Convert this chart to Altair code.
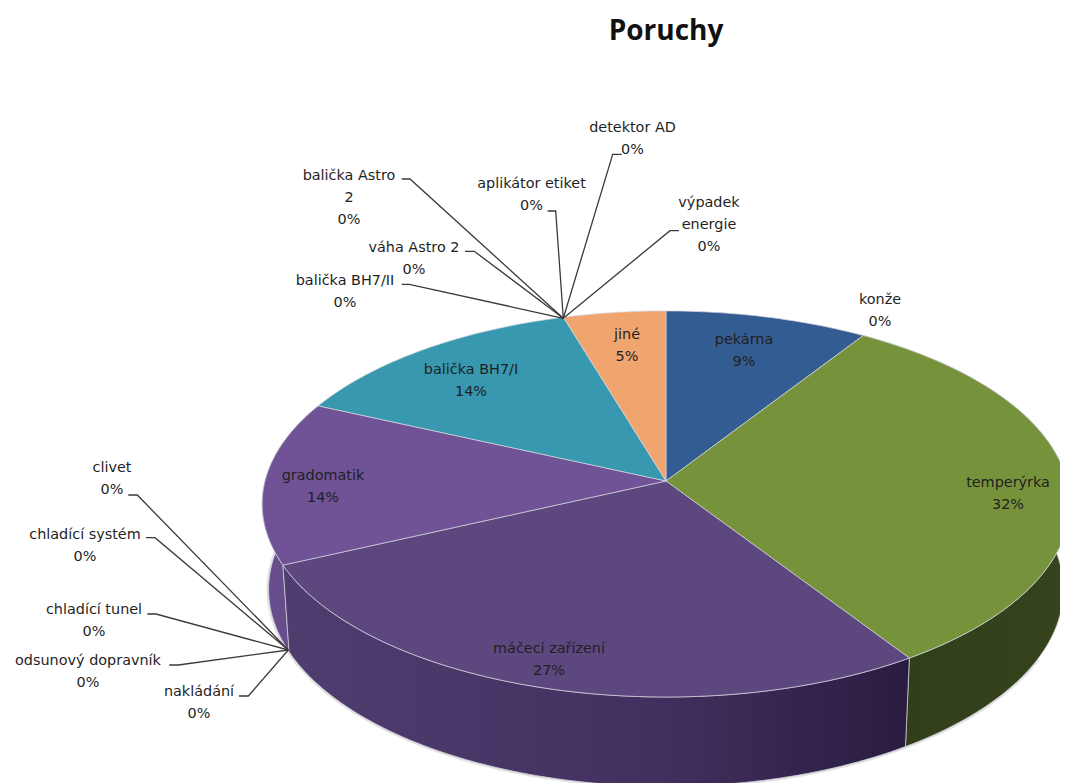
import math
import altair as alt
import pandas as pd

# ---- data ----
slice_names = ["pekárna", "temperýrka", "máčecí zařízení", "gradomatik", "balička BH7/I", "jiné"]
slice_values = [9.1, 31.7, 27.3, 13.7, 13.6, 4.6]
zero_names = ["konže", "nakládání", "odsunový dopravník", "chladící tunel", "chladící systém",
              "clivet", "balička BH7/II", "váha Astro 2", "balička Astro 2", "aplikátor etiket",
              "detektor AD", "výpadek energie"]
top_colors = ["#335d92", "#76933c", "#5d477f", "#6f5396", "#3798af", "#f0a46e"]
seam_color = "#d6d6de"

# ---- layout (pixels of the window) ----
W, H = 1052, 775
FONT = "DejaVu Sans"
cx, cy, B, A, P = 666.0, 481.0, 401.0, 190.3, 0.119


def top_pt(pct):
    t = 2 * math.pi * pct / 100.0
    w = 1 + P * math.cos(t)
    return cx + B * math.sin(t) / w, cy - A * math.cos(t) / w


def low_pt(pct):
    x, y = top_pt(pct)
    return cx + 0.984 * (x - cx), 566.0 + 1.02 * (y - cy)


def arc(a, b, fn):
    n = max(2, int(abs(b - a) * 3))
    return [fn(a + (b - a) * i / n) for i in range(n + 1)]


cum = [0.0]
for v in slice_values:
    cum.append(cum[-1] + v)
cum[-1] = 100.0

top_rows, wall_rows = [], {}
for i, name in enumerate(slice_names):
    pts = [(cx, cy)] + arc(cum[i], cum[i + 1], top_pt) + [(cx, cy)]
    for k, (x, y) in enumerate(pts):
        top_rows.append(dict(name=name, k=k, x=x, y=y))
    wp = arc(cum[i], cum[i + 1], top_pt) + arc(cum[i + 1], cum[i], low_pt)
    wp.append(wp[0])
    wall_rows[name] = [dict(name=name, k=k, x=x, y=y) for k, (x, y) in enumerate(wp)]

X = alt.X("x:Q", axis=None, scale=alt.Scale(domain=[8, 8 + W], range=[0, W], nice=False, zero=False))
Y = alt.Y("y:Q", axis=None, scale=alt.Scale(domain=[8, 8 + H], range=[0, H], nice=False, zero=False))


def wall(name, stops):
    g = alt.Gradient(gradient="linear", x1=0, x2=1, y1=0, y2=0,
                     stops=[alt.GradientStop(offset=o, color=c) for o, c in stops])
    return (alt.Chart(pd.DataFrame(wall_rows[name]))
            .mark_line(filled=True, color=g, stroke=seam_color, strokeWidth=0.7, clip=True)
            .encode(x=X, y=Y, order="k:Q"))


shadow_rows = [dict(k=k, x=x, y=y) for k, (x, y) in enumerate(arc(20, 80, lambda p: low_pt(p + 12.5)))]
shadow = (alt.Chart(pd.DataFrame(shadow_rows))
          .mark_line(stroke="#bdbdbd", strokeWidth=4, opacity=0.45, clip=True)
          .encode(x=X, y=Y, order="k:Q"))

walls = [
    wall("gradomatik", [(0, "#6a4f8e"), (1, "#64498a")]),
    wall("temperýrka", [(0, "#2f3d19"), (1, "#35441d")]),
    wall("máčecí zařízení", [(0, "#4f3d70"), (0.6, "#41305f"), (1, "#2a1c40")]),
]

tops = (alt.Chart(pd.DataFrame(top_rows))
        .mark_line(filled=True, stroke=seam_color, strokeWidth=0.7, clip=True)
        .encode(x=X, y=Y, order="k:Q",
                detail="name:N",
                color=alt.Color("name:N", legend=None,
                                scale=alt.Scale(domain=slice_names, range=top_colors))))

# leaders: label end, elbow, then the point where the zero slices sit
up, dn = (563.3, 318.3), (288.3, 650.0)
leader_paths = {
    "balička Astro 2": [(401.7, 179), (410, 179), up],
    "váha Astro 2": [(465, 251.3), (474.3, 251.3), up],
    "balička BH7/II": [(401.7, 284.3), (409.3, 284.3), up],
    "aplikátor etiket": [(547.7, 211), (555.7, 211), up],
    "detektor AD": [(621.7, 154.3), (612.7, 154.3), up],
    "výpadek energie": [(679, 230.7), (670, 230.7), up],
    "clivet": [(128.3, 495), (137.3, 495), dn],
    "chladící systém": [(146, 537.7), (155, 537.7), dn],
    "chladící tunel": [(147.3, 614), (156, 614), dn],
    "odsunový dopravník": [(169.3, 665), (178.3, 665), dn],
    "nakládání": [(239, 696), (248.3, 696), dn],
}
lead_rows = [dict(name=n, k=k, x=x, y=y) for n, p in leader_paths.items() for k, (x, y) in enumerate(p)]
leaders = (alt.Chart(pd.DataFrame(lead_rows))
           .mark_line(stroke="#3a3a3a", strokeWidth=1.3)
           .encode(x=X, y=Y, order="k:Q", detail="name:N"))

# data labels
label_lines = {
    "konže": (880, 300, ["konže"]),
    "pekárna": (744, 340, ["pekárna"]),
    "jiné": (627, 335, ["jiné"]),
    "balička BH7/I": (471, 370, ["balička BH7/I"]),
    "gradomatik": (323, 476, ["gradomatik"]),
    "temperýrka": (1008, 483, ["temperýrka"]),
    "máčecí zařízení": (549, 649, ["máčecí zařízení"]),
    "detektor AD": (632.5, 128, ["detektor AD"]),
    "aplikátor etiket": (531.5, 184, ["aplikátor etiket"]),
    "výpadek energie": (709, 203, ["výpadek", "energie"]),
    "balička Astro 2": (349, 176, ["balička Astro", "2"]),
    "váha Astro 2": (414, 248, ["váha Astro 2"]),
    "balička BH7/II": (345, 281, ["balička BH7/II"]),
    "clivet": (112, 468, ["clivet"]),
    "chladící systém": (85, 535, ["chladící systém"]),
    "chladící tunel": (94, 610, ["chladící tunel"]),
    "odsunový dopravník": (88, 661, ["odsunový dopravník"]),
    "nakládání": (199, 692, ["nakládání"]),
}
all_vals = dict(zip(slice_names, slice_values))
all_vals.update({n: 0 for n in zero_names})
txt_rows = []
for n, (x, y, lines) in label_lines.items():
    for j, s in enumerate(lines + [f"{round(all_vals[n])}%"]):
        txt_rows.append(dict(x=x, y=y + j * 22.2, t=s))
labels = (alt.Chart(pd.DataFrame(txt_rows))
          .mark_text(font=FONT, fontSize=14.4, color="#1f1f1f", align="center", baseline="middle")
          .encode(x=X, y=Y, text="t:N"))

chart = (alt.layer(shadow, *walls, tops, leaders, labels)
         .properties(width=W, height=H, padding=0, autosize="none",
                     title=alt.TitleParams("Poruchy", font="Open Sans", fontSize=28, fontWeight="bold",
                                           color="#111111", anchor="middle", frame="group",
                                           dx=132, dy=38, offset=0))
         .configure_view(stroke=None)
         .configure_axis(grid=False))

chart.save("out.html", embed_options={"renderer": "svg", "actions": False})
